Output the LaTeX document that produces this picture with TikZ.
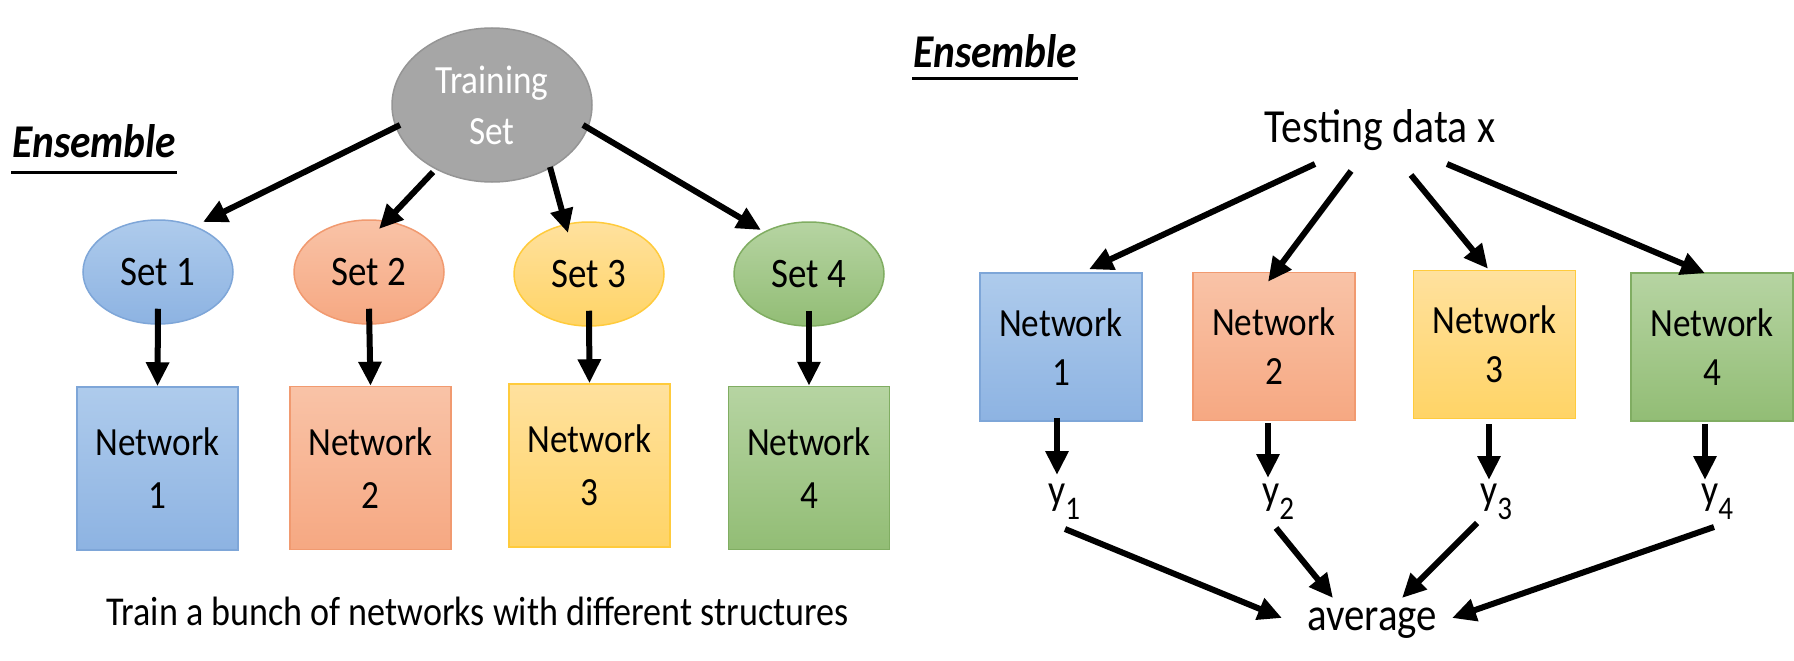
\documentclass[tikz,border=0pt]{standalone}
\usepackage{fontspec}
\setmainfont{Carlito}[FakeStretch=0.88]
\usetikzlibrary{arrows.meta,shapes.geometric,calc}
\definecolor{tsgray}{HTML}{A6A6A6}
\definecolor{tsdraw}{HTML}{959595}
\definecolor{blueT}{HTML}{AECBEC}
\definecolor{blueB}{HTML}{8DB3E2}
\definecolor{blueD}{HTML}{7EA6D8}
\definecolor{orgT}{HTML}{F9C3A7}
\definecolor{orgB}{HTML}{F6A882}
\definecolor{orgD}{HTML}{F19A70}
\definecolor{yelT}{HTML}{FFE19E}
\definecolor{yelB}{HTML}{FFD466}
\definecolor{yelD}{HTML}{FFCB3C}
\definecolor{grnT}{HTML}{B6D4A2}
\definecolor{grnB}{HTML}{92BD75}
\definecolor{grnD}{HTML}{80AD62}
\newcommand{\fntL}{\fontsize{40}{51}\selectfont}
\newcommand{\fntSet}{\fontsize{42}{51}\selectfont}
\newcommand{\fntNL}{\fontsize{40}{53}\selectfont}
\newcommand{\fntNR}{\fontsize{40}{49}\selectfont}
\newcommand{\fntR}{\fontsize{47.5}{50}\selectfont}
\newcommand{\fntY}{\fontsize{43}{50}\selectfont}
\newcommand{\fntAvg}{\fontsize{46.5}{50}\selectfont}
\newcommand{\fntEns}{\fontsize{47}{50}\selectfont}
\newcommand{\fntCap}{\fontsize{41}{50}\selectfont}
\newcommand{\fntSub}{\fontsize{33}{33}\selectfont}
\tikzset{
  arr/.style={line width=6pt,-{Triangle[length=24pt,width=22pt]}},
  uline/.style={line width=3pt},
  setnode/.style={ellipse, draw, line width=1.5pt, minimum width=150pt, minimum height=104pt, inner sep=0pt, font=\fntSet},
  netL/.style={rectangle, draw, line width=1.5pt, minimum width=161pt, minimum height=163pt, inner sep=0pt, align=center, font=\fntNL},
  netR/.style={rectangle, draw, line width=1.5pt, minimum width=162pt, minimum height=148pt, inner sep=0pt, align=center, font=\fntNR},
  bluef/.style={top color=blueT, bottom color=blueB, draw=blueD},
  orgf/.style={top color=orgT, bottom color=orgB, draw=orgD},
  yelf/.style={top color=yelT, bottom color=yelB, draw=yelD},
  grnf/.style={top color=grnT, bottom color=grnB, draw=grnD},
  txt/.style={inner sep=0pt},
}
\begin{document}
\begin{tikzpicture}[x=1pt,y=-1pt]
\fill[white] (0,0) rectangle (1794,661);
\useasboundingbox (0,0) rectangle (1794,661);

% ---------- left panel ----------
\node[txt, anchor=base west, font=\fntEns] (ensL) at (12,157) {\bfseries\itshape Ensemble};
\draw[uline] ([shift={(-1,15)}]ensL.base west) -- ([shift={(1,15)}]ensL.base east);

\node[ellipse, fill=tsgray, draw=tsdraw, line width=1.5pt, minimum width=200pt, minimum height=154pt,
      inner sep=0pt, align=center, text=white, font=\fntL] (ts) at (492,105) {Training\\Set};

\node[setnode, bluef] (s1) at (158,272) {Set 1};
\node[setnode, orgf]  (s2) at (369,272) {Set 2};
\node[setnode, yelf]  (s3) at (589,274) {Set 3};
\node[setnode, grnf]  (s4) at (809,274) {Set 4};

\node[netL, bluef] (n1) at (157.5,468.5) {Network\\1};
\node[netL, orgf]  (n2) at (370.5,468)   {Network\\2};
\node[netL, yelf]  (n3) at (589.5,465.5) {Network\\3};
\node[netL, grnf]  (n4) at (809,468)     {Network\\4};

\draw[arr] ([shift={(-92,20)}]ts.center) -- ([shift={(45,-50)}]s1.center);
\draw[arr] ([shift={(-59,67)}]ts.center) -- ([shift={(10,-43)}]s2.center);
\draw[arr] ([shift={(58,62)}]ts.center)  -- ([shift={(-21,-41)}]s3.center);
\draw[arr] ([shift={(91,20)}]ts.center)  -- ([shift={(-48,-44)}]s4.center);

\draw[arr] ([shift={(0,-16)}]s1.south) -- (n1.north);
\draw[arr] ([shift={(0,-16)}]s2.south) -- (n2.north);
\draw[arr] ([shift={(0,-16)}]s3.south) -- (n3.north);
\draw[arr] ([shift={(0,-16)}]s4.south) -- (n4.north);

\node[txt, anchor=base, font=\fntCap] (cap) at (477.5,625) {Train a bunch of networks with different structures};

% ---------- right panel ----------
\node[txt, anchor=base west, font=\fntEns] (ensR) at (913,68) {\bfseries\itshape Ensemble};
\draw[uline] ([shift={(-1,11)}]ensR.base west) -- ([shift={(1,11)}]ensR.base east);

\node[txt, anchor=base, font=\fntR] (test) at (1380,142) {Testing data x};

\node[netR, bluef] (r1) at (1061,347)   {Network\\1};
\node[netR, orgf]  (r2) at (1274,346.5) {Network\\2};
\node[netR, yelf]  (r3) at (1494.5,344.5) {Network\\3};
\node[netR, grnf]  (r4) at (1712,347)   {Network\\4};

\draw[arr] ([shift={(-65,22)}]test.base) -- ([shift={(28,-3)}]r1.north);
\draw[arr] ([shift={(-29,29)}]test.base) -- ([shift={(-6,10)}]r2.north);
\draw[arr] ([shift={(31,33)}]test.base)  -- ([shift={(-6.5,-1)}]r3.north);
\draw[arr] ([shift={(67,22)}]test.base)  -- ([shift={(-7,1)}]r4.north);

\node[txt, anchor=base west, font=\fntY] (y1) at (1048,504) {y\raisebox{-15pt}{\fntSub 1}};
\node[txt, anchor=base west, font=\fntY] (y2) at (1262,504) {y\raisebox{-15pt}{\fntSub 2}};
\node[txt, anchor=base west, font=\fntY] (y3) at (1480,504) {y\raisebox{-15pt}{\fntSub 3}};
\node[txt, anchor=base west, font=\fntY] (y4) at (1701,504) {y\raisebox{-15pt}{\fntSub 4}};

\draw[arr] ([shift={(-4,-4)}]r1.south)   -- ([shift={(9,-29)}]y1.base west);
\draw[arr] ([shift={(-6,2)}]r2.south)    -- ([shift={(6,-26)}]y2.base west);
\draw[arr] ([shift={(-5.5,5)}]r3.south)  -- ([shift={(9,-24)}]y3.base west);
\draw[arr] ([shift={(-7,2)}]r4.south)    -- ([shift={(4,-24)}]y4.base west);

\node[txt, anchor=base, font=\fntAvg] (avg) at (1372,630) {average};

\draw[arr] ([shift={(17,25)}]y1.base west) -- ([shift={(-90,-12)}]avg.base);
\draw[arr] ([shift={(14,24)}]y2.base west) -- ([shift={(-39,-32)}]avg.base);
\draw[arr] ([shift={(-3,19)}]y3.base west) -- ([shift={(30,-32)}]avg.base);
\draw[arr] ([shift={(13,23)}]y4.base west) -- ([shift={(80,-12)}]avg.base);
\end{tikzpicture}
\end{document}
